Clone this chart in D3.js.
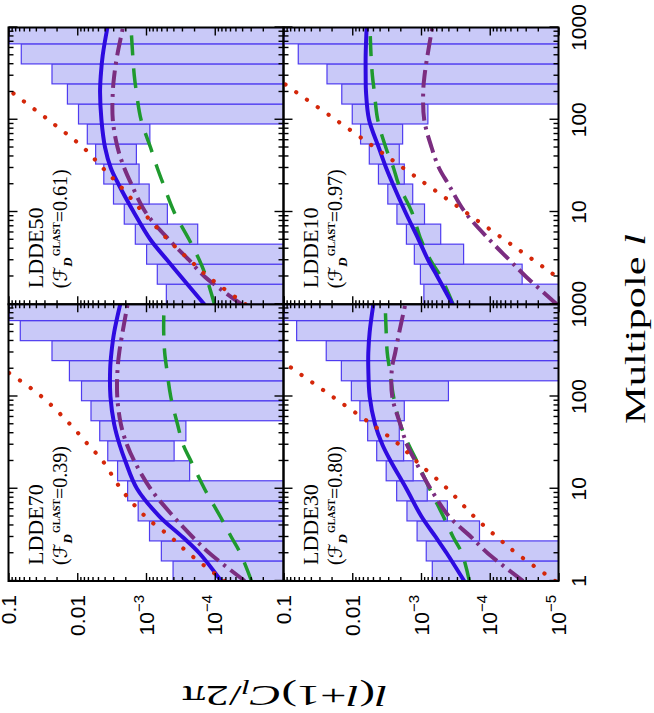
<!DOCTYPE html>
<html><head><meta charset="utf-8">
<script src="https://cdn.jsdelivr.net/npm/d3@7"></script>
<style>body{margin:0;background:#fff}svg{display:block}</style>
</head><body>
<svg id="c" width="654" height="713"></svg>
<script>
// ---------------- data ----------------
const lGrid = [1, 2, 3, 5, 10, 20, 30, 50, 100, 200, 300, 500, 1000];
const binEdges = [1, 1.65, 2.72, 4.48, 7.39, 12.2, 20.1, 33.1, 54.6, 90.0, 148, 245, 403, 665, 1000];
const lMajor = [1, 10, 100, 1000];
const cMajor = [1e-5, 1e-4, 1e-3, 0.01, 0.1];

const panelNames = ["LDDE70", "LDDE50", "LDDE30", "LDDE10"];
const fDglast = ["0.39", "0.61", "0.80", "0.97"];

// histogram (upper / lower edge of each l-bin; null = below axis)
const ldde70Upper = [4.04e-4, 5.98e-4, 8.89e-4, 1.30e-3, 1.85e-3, 2.59e-3, 3.60e-3, 4.71e-3, 6.31e-3, 8.67e-3, 0.0130, 0.0233, 0.0674, 0.098];
const ldde70Lower = [null, null, null, null, null, 2.32e-4, 3.90e-4, 2.63e-4, null, null, null, null, null, null];
const ldde50Upper = [5.06e-4, 6.85e-4, 9.8e-4, 1.43e-3, 2.07e-3, 2.97e-3, 4.11e-3, 5.40e-3, 7.14e-3, 9.59e-3, 0.0139, 0.0233, 0.0652, 0.098];
const ldde50Lower = [null, null, null, 1.77e-4, 4.89e-4, 8.99e-4, 1.26e-3, 1.38e-3, 8.79e-4, null, null, null, null, null];
const ldde30Upper = [6.85e-4, 8.39e-4, 1.14e-3, 1.60e-3, 2.26e-3, 3.21e-3, 4.41e-3, 5.97e-3, 7.74e-3, 0.0103, 0.0144, 0.0239, 0.0644, 0.098];
const ldde30Lower = [null, null, 1.41e-4, 4.13e-4, 8.11e-4, 1.30e-3, 1.79e-3, 2.07e-3, 1.75e-3, 3.99e-4, null, null, null, null];
const ldde10Upper = [9.08e-4, 1.02e-3, 1.25e-3, 1.63e-3, 2.24e-3, 3.04e-3, 4.16e-3, 5.65e-3, 7.57e-3, 0.0100, 0.0142, 0.0233, 0.061, 0.098];
const ldde10Lower = [null, 3.38e-5, 2.40e-4, 5.17e-4, 8.89e-4, 1.32e-3, 1.75e-3, 2.07e-3, 1.85e-3, 7.94e-4, null, null, null, null];

// model curves, sampled at lGrid
const ldde70Solid   = [8.05e-5, 1.67e-4, 2.94e-4, 6.34e-4, 1.35e-3, 2.00e-3, 2.42e-3, 2.90e-3, 3.29e-3, 3.32e-3, 3.18e-3, 2.90e-3, 2.37e-3];
const ldde70DashDot = [3.66e-5, 1.19e-4, 2.10e-4, 3.99e-4, 8.59e-4, 1.48e-3, 1.89e-3, 2.32e-3, 2.62e-3, 2.59e-3, 2.45e-3, 2.19e-3, 1.85e-3];
const ldde70Dash    = [2.92e-5, 4.24e-5, 5.74e-5, 8.32e-5, 1.41e-4, 2.22e-4, 2.88e-4, 3.48e-4, 4.37e-4, 5.00e-4, 5.35e-4, 5.53e-4, 5.47e-4];
const ldde70Dotted  = [7.19e-5, 2.40e-4, 4.37e-4, 1.02e-3, 2.32e-3, 4.26e-3, 6.92e-3, 0.0127, 0.0331, 0.121, 0.27, null, null];

const ldde50Solid   = [1.42e-4, 3.11e-4, 4.89e-4, 8.6e-4, 1.51e-3, 2.51e-3, 3.25e-3, 3.94e-3, 4.45e-3, 4.66e-3, 4.55e-3, 4.26e-3, 3.64e-3];
const ldde50DashDot = [4.09e-5, 1.41e-4, 2.35e-4, 4.62e-4, 1.02e-3, 1.63e-3, 2.07e-3, 2.59e-3, 3.04e-3, 3.04e-3, 2.90e-3, 2.62e-3, 2.16e-3];
const ldde50Dash    = [1.01e-4, 1.34e-4, 1.67e-4, 2.35e-4, 3.90e-4, 5.60e-4, 6.85e-4, 8.59e-4, 1.18e-3, 1.38e-3, 1.48e-3, 1.56e-3, 1.65e-3];
const ldde50Dotted  = [3.57e-5, 1.26e-4, 2.30e-4, 4.78e-4, 1.11e-3, 2.51e-3, 4.26e-3, 8.19e-3, 0.0264, 0.0904, 0.178, null, null];

const ldde30Solid   = [2.35e-4, 4.22e-4, 6.12e-4, 9.84e-4, 1.63e-3, 2.77e-3, 3.64e-3, 4.66e-3, 5.58e-3, 5.84e-3, 5.84e-3, 5.58e-3, 4.93e-3];
const ldde30DashDot = [3.27e-5, 1.07e-4, 1.87e-4, 3.90e-4, 7.25e-4, 1.21e-3, 1.60e-3, 2.00e-3, 2.62e-3, 2.65e-3, 2.37e-3, 2.07e-3, 1.69e-3];
const ldde30Dash    = [1.98e-4, 2.54e-4, 3.41e-4, 4.72e-4, 7.50e-4, 1.15e-3, 1.51e-3, 2.00e-3, 2.51e-3, 2.87e-3, 3.10e-3, 3.21e-3, 3.32e-3];
const ldde30Dotted  = [1.12e-5, 4.09e-5, 7.87e-5, 1.69e-4, 4.13e-4, 1.18e-3, 2.07e-3, 5.21e-3, 0.0195, 0.0738, 0.163, null, null];

const ldde10Solid   = [3.48e-4, 5.78e-4, 7.85e-4, 1.08e-3, 1.69e-3, 2.56e-3, 3.21e-3, 4.11e-3, 5.70e-3, 6.31e-3, 6.38e-3, 6.38e-3, 6.18e-3];
const ldde10DashDot = [1.06e-5, 2.99e-5, 5.13e-5, 1.01e-4, 2.30e-4, 3.99e-4, 5.47e-4, 7.01e-4, 8.98e-4, 9.29e-4, 8.89e-4, 8.04e-4, 6.85e-4];
const ldde10Dash    = [3.41e-4, 5.17e-4, 7.25e-4, 1.00e-3, 1.36e-3, 2.12e-3, 2.51e-3, 3.25e-3, 4.26e-3, 4.77e-3, 5.09e-3, 5.33e-3, 5.52e-3];
const ldde10Dotted  = [2.89e-6, 1.07e-5, 2.30e-5, 6.07e-5, 2.27e-4, 8.39e-4, 1.81e-3, 4.71e-3, 0.0174, 0.0659, 0.142, null, null];

const panelData = [
  {upper: ldde70Upper, lower: ldde70Lower, solid: ldde70Solid, dashdot: ldde70DashDot, dash: ldde70Dash, dotted: ldde70Dotted},
  {upper: ldde50Upper, lower: ldde50Lower, solid: ldde50Solid, dashdot: ldde50DashDot, dash: ldde50Dash, dotted: ldde50Dotted},
  {upper: ldde30Upper, lower: ldde30Lower, solid: ldde30Solid, dashdot: ldde30DashDot, dash: ldde30Dash, dotted: ldde30Dotted},
  {upper: ldde10Upper, lower: ldde10Lower, solid: ldde10Solid, dashdot: ldde10DashDot, dash: ldde10Dash, dotted: ldde10Dotted}
];

// ---------------- layout (original, un-rotated figure) ----------------
const colX = [132, 408.75], pw = 276.75;
const rowY = [8.5, 283.5], ph = 275;
const panelCell = [[0, 0], [1, 0], [0, 1], [1, 1]]; // [col,row]

const svg = d3.select("#c");
const defs = svg.append("defs");
const root = svg.append("g").attr("transform", "translate(0,713) rotate(-90)");

const lMinor = [];
[1, 10, 100].forEach(d => { for (let m = 2; m < 10; m++) lMinor.push(d * m); });
const cMinor = [];
[1e-5, 1e-4, 1e-3, 1e-2].forEach(d => { for (let m = 2; m < 10; m++) cMinor.push(d * m); });

const serif = "'Liberation Serif','Times New Roman',serif";
const sans = "'Liberation Sans',Arial,Helvetica,sans-serif";

panelNames.forEach((name, i) => {
  const p = panelData[i];
  const [col, row] = panelCell[i];
  const x0 = colX[col], y0 = rowY[row];
  const x = d3.scaleLog().domain([1, 1000]).range([x0, x0 + pw]);
  const y = d3.scaleLog().domain([1e-5, 0.1]).range([y0 + ph, y0]);

  const cid = "clip" + i;
  defs.append("clipPath").attr("id", cid).append("rect")
    .attr("x", x0).attr("y", y0).attr("width", pw).attr("height", ph);

  const g = root.append("g").attr("clip-path", `url(#${cid})`);

  const bins = binEdges.slice(0, -1).map((e, k) => ({e0: e, e1: binEdges[k + 1], hi: p.upper[k], lo: p.lower[k]}));
  g.selectAll("rect.bar").data(bins).join("rect").attr("class", "bar")
    .attr("x", d => x(d.e0)).attr("width", d => x(d.e1) - x(d.e0))
    .attr("y", d => y(d.hi))
    .attr("height", d => (d.lo == null ? y0 + ph + 5 : y(d.lo)) - y(d.hi))
    .attr("fill", "#c9c9f8").attr("stroke", "#4f3cf0").attr("stroke-width", 1.2);

  const line = d3.line().defined(d => d[1] != null)
    .x(d => x(d[0])).y(d => y(d[1])).curve(d3.curveCatmullRom.alpha(0.5));

  const series = [
    {vals: p.dash, color: "#1f9a2e", w: 3.5, dash: "20,13", cap: "butt"},
    {vals: p.dashdot, color: "#7b2d80", w: 4, dash: "18,6,3,6", cap: "butt"},
    {vals: p.solid, color: "#2e0be0", w: 4, dash: null, cap: "round"},
    {vals: p.dotted, color: "#d4270a", w: 4.2, dash: "0.1,13", cap: "round"}
  ];
  series.forEach(s => {
    g.append("path").datum(lGrid.map((l, k) => [l, s.vals[k]]))
      .attr("d", line).attr("fill", "none").attr("stroke", s.color)
      .attr("stroke-width", s.w).attr("stroke-dasharray", s.dash)
      .attr("stroke-linecap", s.cap);
  });

  // ticks (inward, all four sides)
  const fr = root.append("g");
  const ax = (axis, tx, ty) => fr.append("g").attr("transform", `translate(${tx},${ty})`).call(axis)
    .call(s => { s.select(".domain").remove(); s.selectAll("text").remove();
      s.selectAll("line").attr("stroke", "#000").attr("stroke-width", 1.4); });
  ax(d3.axisBottom(x).tickValues(lMajor).tickSize(-9), 0, y0 + ph);
  ax(d3.axisBottom(x).tickValues(lMinor).tickSize(-5), 0, y0 + ph);
  ax(d3.axisTop(x).tickValues(lMajor).tickSize(-9), 0, y0);
  ax(d3.axisTop(x).tickValues(lMinor).tickSize(-5), 0, y0);
  ax(d3.axisLeft(y).tickValues(cMajor).tickSize(-8), x0, 0);
  ax(d3.axisLeft(y).tickValues(cMinor).tickSize(-4), x0, 0);
  ax(d3.axisRight(y).tickValues(cMajor).tickSize(-8), x0 + pw, 0);
  ax(d3.axisRight(y).tickValues(cMinor).tickSize(-4), x0 + pw, 0);

  fr.append("rect").attr("x", x0).attr("y", y0).attr("width", pw).attr("height", ph)
    .attr("fill", "none").attr("stroke", "#000").attr("stroke-width", 2);

  // panel label
  fr.append("text").attr("x", x0 + 16).attr("y", y0 + 34)
    .attr("font-family", serif).attr("font-size", 22).text(name);
  const t2 = fr.append("text").attr("x", x0 + 16).attr("y", y0 + 58)
    .attr("font-family", serif).attr("font-size", 20);
  t2.append("tspan").text("(");
  t2.append("tspan").attr("font-family", "'DejaVu Serif','DejaVu Sans',serif").attr("font-size", 19).text("\u2131");
  t2.append("tspan").attr("font-style", "italic").attr("font-weight", "bold").attr("font-size", 13).attr("dy", 5).text("D");
  t2.append("tspan").attr("font-weight", "bold").attr("font-size", 10).attr("dy", -12).attr("dx", 1).text("GLAST");
  t2.append("tspan").attr("dy", 7).text("=" + fDglast[i] + ")");

  // bottom tick labels (multipole) for lower row
  if (row === 1) {
    const labs = col === 0 ? lMajor : lMajor.slice(1);
    labs.forEach(v => {
      fr.append("text").attr("x", x(v)).attr("y", y0 + ph + 27)
        .attr("text-anchor", "middle").attr("font-family", sans).attr("font-size", 21)
        .text(d3.format("d")(v));
    });
  }
  // left tick labels (C_l) for left column
  if (col === 0) {
    const labs = row === 0 ? cMajor.slice(1) : cMajor;
    labs.forEach(v => {
      const t = fr.append("text").attr("x", 118).attr("y", y(v)).attr("dy", "0.36em")
        .attr("text-anchor", "end").attr("font-family", sans).attr("font-size", 21);
      if (v >= 0.01) t.text(v === 0.1 ? "0.1" : "0.01");
      else {
        const e = Math.round(Math.log10(v));
        t.append("tspan").text("10");
        t.append("tspan").attr("font-size", 15).attr("dy", -10).text("\u2212" + Math.abs(e));
      }
    });
  }
});

// axis titles
const xt = root.append("text").attr("x", 289).attr("y", 645)
  .attr("text-anchor", "start").attr("font-family", serif).attr("font-size", 29)
  .attr("textLength", 190).attr("lengthAdjust", "spacingAndGlyphs");
xt.append("tspan").text("Multipole ");
xt.append("tspan").attr("font-style", "italic").text("l");

const yt = root.append("text").attr("transform", "translate(27,388) rotate(-90)")
  .attr("text-anchor", "start").attr("font-family", serif).attr("font-size", 30)
  .attr("textLength", 206).attr("lengthAdjust", "spacingAndGlyphs");
yt.append("tspan").attr("font-style", "italic").text("l");
yt.append("tspan").text("(");
yt.append("tspan").attr("font-style", "italic").text("l");
yt.append("tspan").text("+1)");
yt.append("tspan").attr("font-style", "italic").text("C");
yt.append("tspan").attr("font-style", "italic").attr("font-size", 20).attr("dy", 6).text("l");
yt.append("tspan").attr("dy", -6).text("/2\u03c0");
</script>
</body></html>
